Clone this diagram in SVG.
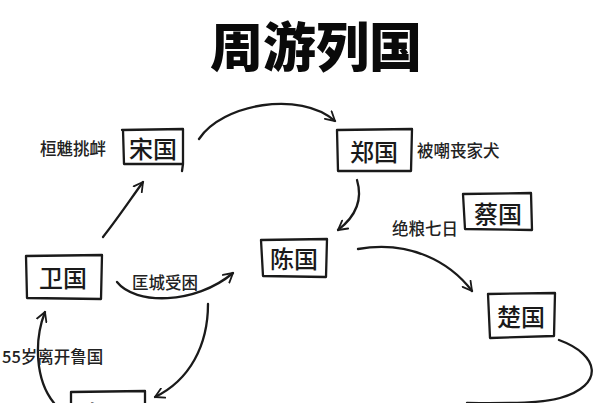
<svg xmlns="http://www.w3.org/2000/svg" width="600" height="403" viewBox="0 0 600 403">
<defs>
<style>
.box{fill:none;stroke:#1a1a1a;stroke-width:2.3;stroke-linejoin:round;stroke-linecap:round}
.nt{font-family:"Noto Sans CJK SC","Noto Sans CJK TC",sans-serif;font-size:24px;font-weight:500;fill:#1a1a1a;text-anchor:middle;dominant-baseline:central}
.lb{font-family:"Noto Sans CJK SC","Noto Sans CJK TC",sans-serif;font-size:16.5px;font-weight:500;fill:#222;dominant-baseline:central}
.cn{fill:none;stroke:#1a1a1a;stroke-width:2.3;stroke-linecap:round}
.title{font-family:"Noto Sans CJK SC","Noto Sans CJK TC",sans-serif;font-size:53px;font-weight:900;fill:#0a0a0a;text-anchor:middle}
</style>
<marker id="ah" viewBox="0 0 12 12" refX="10" refY="6" markerWidth="12" markerHeight="12" markerUnits="userSpaceOnUse" orient="auto">
<path d="M1,1 L10,6 L1,11" fill="none" stroke="#1a1a1a" stroke-width="1.8" stroke-linecap="round" stroke-linejoin="round"/>
</marker>
</defs>
<rect width="600" height="403" fill="#ffffff"/>
<text class="title" x="316" y="67">周游列国</text>

<g id="connectors">
<path class="cn" d="M199,139 C222,104 300,90 335,121" marker-end="url(#ah)"/>
<path class="cn" d="M357,180 C363,200 355,217 338,230" marker-end="url(#ah)"/>
<path class="cn" d="M358,249 C410,240 450,262 472,291" marker-end="url(#ah)"/>
<path class="cn" d="M103,237 C118,218 130,200 143,182" marker-end="url(#ah)"/>
<path class="cn" d="M117,282 C135,305 195,305 233,273" marker-end="url(#ah)"/>
<path class="cn" d="M208,304 C208,345 190,380 155,397" marker-end="url(#ah)"/>
<path class="cn" d="M54,403 C35,380 34,340 45,312" marker-end="url(#ah)"/>
<path class="cn" d="M559,340 C600,355 605,385 560,398 C540,404 500,403 467,403"/>
</g>

<g id="song">
<path class="box" d="M122,130 L183,129 L183,164 L182,171 M183,164 L124,164 L123,130"/>
<text class="nt" x="153" y="147">宋国</text>
<text class="lb" x="40" y="148">桓魋挑衅</text>
</g>
<g id="zheng">
<path class="box" d="M337,130 L412,129 L411,171 L338,171 Z"/>
<text class="nt" x="374" y="150">郑国</text>
<text class="lb" x="417" y="150">被嘲丧家犬</text>
</g>
<g id="cai">
<path class="box" d="M463,194 L531,193 L532,230 L465,229 Z"/>
<text class="nt" x="498" y="212">蔡国</text>
<text class="lb" x="392" y="228">绝粮七日</text>
</g>
<g id="chen">
<path class="box" d="M261,240 L327,239 L326,277 L263,276 Z"/>
<text class="nt" x="294" y="257">陈国</text>
</g>
<g id="wei">
<path class="box" d="M26,256 L102,255 L101,299 L27,298 Z"/>
<text class="nt" x="63" y="276">卫国</text>
<text class="lb" x="132" y="282">匡城受困</text>
</g>
<g id="chu">
<path class="box" d="M488,294 L555,293 L554,336 L490,338 Z"/>
<text class="nt" x="521" y="315">楚国</text>
</g>
<g id="lu">
<path class="box" d="M71,410 L71,392 L145,391 L145,410"/>
<text class="nt" x="108" y="412">鲁国</text>
<text class="lb" x="2" y="356">55岁离开鲁国</text>
</g>
</svg>
